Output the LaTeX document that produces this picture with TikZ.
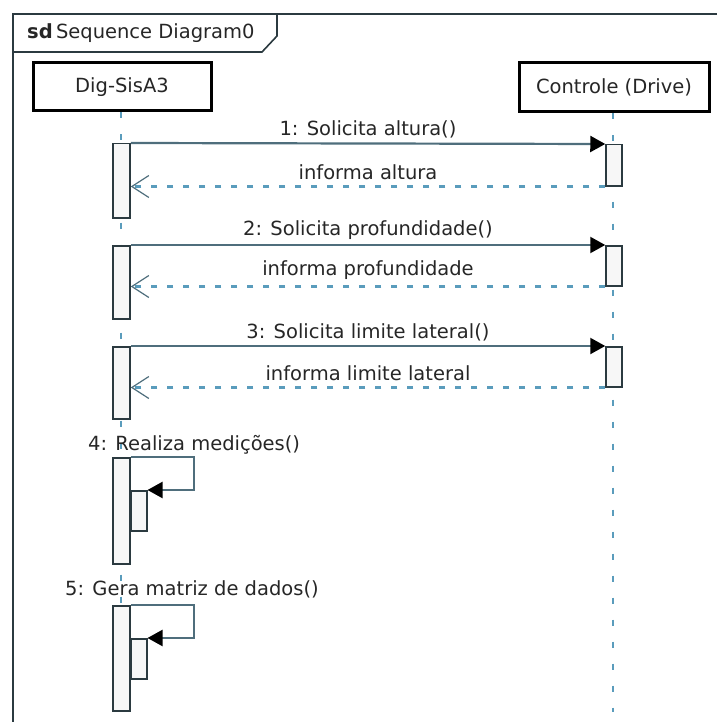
\documentclass[tikz,border=0pt]{standalone}
\usepackage{fontspec}
\setmainfont{DejaVu Sans}
\usetikzlibrary{arrows.meta}
\definecolor{frm}{HTML}{2B3A40}
\definecolor{msg}{HTML}{4F6E7C}
\definecolor{ret}{HTML}{5A9CBC}
\definecolor{act}{HTML}{F7F7F7}
\begin{document}
\begin{tikzpicture}[x=1pt,y=-1pt,
  lbl/.style={font=\fontsize{19.5}{22}\selectfont, text=black!85, inner sep=1pt},
  actor/.style={draw=black, line width=3pt, fill=white, font=\fontsize{19.5}{22}\selectfont, text=black!85},
  actbox/.style={draw=frm, line width=1.5pt, fill=act},
  call/.style={draw=msg, line width=2.2pt, -{Triangle[length=15pt,width=16pt,color=black]}},
  reply/.style={draw=ret, line width=2.2pt, dash pattern=on 6pt off 10pt, -{Straight Barb[length=17pt,width=22pt,line width=1.2pt,color=msg]}},
  life/.style={draw=ret, line width=2.4pt, dash pattern=on 6pt off 16pt}]
\useasboundingbox (0,0) rectangle (717,722);
% frame
\draw[frm, line width=2pt] (717,14) -- (13,14) -- (13,722);
\draw[frm, line width=1.6pt] (13,52) -- (262,52) -- (277,36) -- (277,14);
\node[anchor=base west, inner sep=0pt, font=\fontsize{19.5}{22}\selectfont, text=black!85] (title) at (27,39) {\textbf{sd}\,Sequence Diagram0};
% lifeline heads
\node[actor, minimum width=178, minimum height=48] (A) at (122,87) {Dig-SisA3};
\node[actor, minimum width=190, minimum height=49] (B) at (614,87.5) {Controle (Drive)};
% lifelines
\coordinate (Aend) at (121,605);
\coordinate (Bend) at (613,712);
\draw[life] (A.south -| Aend) -- (Aend);
\draw[life] (B.south -| Bend) -- (Bend);
% activations left
\foreach \t/\b/\n in {143/217/a1,245/318/a2,346/418/a3,457/563/a4,605/710/a5}{
  \node[actbox, minimum width=17, minimum height=\b-\t, inner sep=0pt, anchor=north] (\n) at (121.5,\t) {};
}
% activations right
\foreach \t/\b/\n in {144/185/b1,245/285/b2,346/386/b3}{
  \node[actbox, minimum width=16, minimum height=\b-\t, inner sep=0pt, anchor=north] (\n) at (614,\t) {};
}
% nested activations
\node[actbox, minimum width=16, minimum height=40, inner sep=0pt, anchor=north west] (n4) at (130,490) {};
\node[actbox, minimum width=16, minimum height=40, inner sep=0pt, anchor=north west] (n5) at (130,638) {};
% messages
\draw[call] (a1.north east) -- (b1.north west) node[lbl, midway, above=3pt] {1: Solicita altura()};
\draw[reply] (b1.south west) -- (b1.south west -| a1.east) node[lbl, midway, above=5pt] {informa altura};
\draw[call] (a2.north east) -- (b2.north west) node[lbl, midway, above=3pt] {2: Solicita profundidade()};
\draw[reply] (b2.south west) -- (b2.south west -| a2.east) node[lbl, midway, above=5pt] {informa profundidade};
\draw[call] (a3.north east) -- (b3.north west) node[lbl, midway, above=3pt] {3: Solicita limite lateral()};
\draw[reply] (b3.south west) -- (b3.south west -| a3.east) node[lbl, midway, above=5pt] {informa limite lateral};
% self messages
\coordinate (c4) at (194,457);
\coordinate (c5) at (194,605);
\node[lbl, anchor=base west, inner sep=0pt] (l4) at (88,450) {4: Realiza medições()};
\node[lbl, anchor=base west, inner sep=0pt] (l5) at (65,595) {5: Gera matriz de dados()};
\draw[call] (a4.north east) -- (c4) |- (n4.north east);
\draw[call] (a5.north east) -- (c5) |- (n5.north east);
\end{tikzpicture}
\end{document}
